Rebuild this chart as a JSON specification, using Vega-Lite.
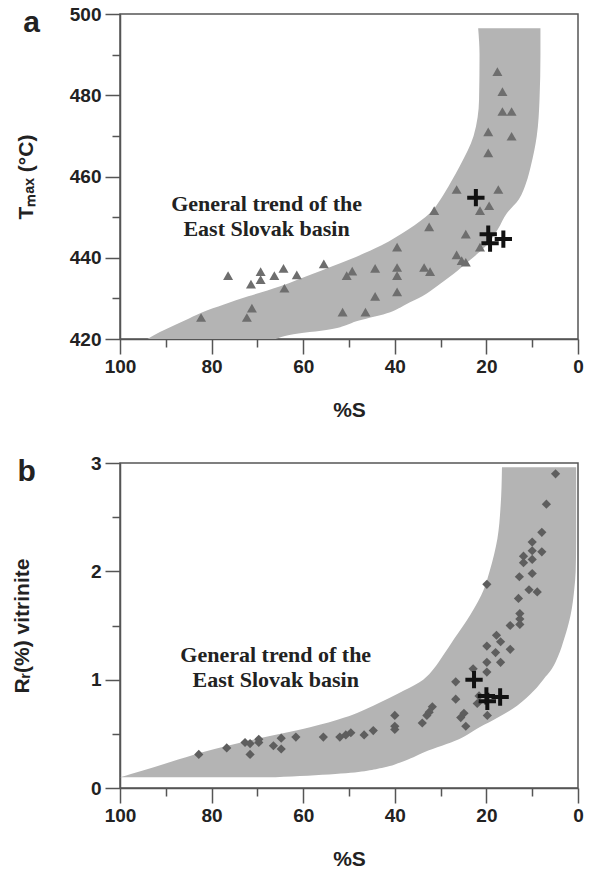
{
  "$schema": "https://vega.github.io/schema/vega-lite/v6.json",
  "background": "white",
  "padding": {"left": 10, "top": 4, "right": 0, "bottom": 0},
  "spacing": 32,
  "config": {
    "view": {"stroke": "#555", "strokeWidth": 1.5},
    "axis": {
      "grid": false,
      "domainColor": "#555", "domainWidth": 1.5,
      "tickColor": "#555", "tickWidth": 1.5,
      "labelFont": "Liberation Sans", "labelFontSize": 19, "labelFontWeight": "bold", "labelColor": "#222",
      "labelOverlap": false, "labelFlush": false, "labelBound": false,
      "titleFont": "Liberation Sans", "titleFontSize": 21, "titleFontWeight": "bold", "titleColor": "#222"
    },
    "title": {"font": "Liberation Sans", "fontSize": 30, "fontWeight": "bold", "color": "#222", "anchor": "start", "frame": "bounds"}
  },
  "datasets": {
    "bandA": [
      {"T": 420, "inner": 94, "outer": 66},
      {"T": 421, "inner": 92.5, "outer": 63},
      {"T": 422.4, "inner": 90, "outer": 54},
      {"T": 424.5, "inner": 86, "outer": 48},
      {"T": 426.6, "inner": 82, "outer": 41},
      {"T": 428.5, "inner": 77.3, "outer": 37.6},
      {"T": 430.5, "inner": 72, "outer": 34},
      {"T": 433, "inner": 65, "outer": 30.8},
      {"T": 436, "inner": 58, "outer": 27.2},
      {"T": 439.5, "inner": 50, "outer": 23.5},
      {"T": 443, "inner": 43, "outer": 20},
      {"T": 447, "inner": 37, "outer": 17.5},
      {"T": 451, "inner": 32.3, "outer": 15.5},
      {"T": 454.4, "inner": 30, "outer": 12.9},
      {"T": 458.5, "inner": 27.8, "outer": 11.3},
      {"T": 462.6, "inner": 25.8, "outer": 10.3},
      {"T": 470, "inner": 22.8, "outer": 9},
      {"T": 479, "inner": 21.6, "outer": 8.4},
      {"T": 490, "inner": 21.5, "outer": 8.2},
      {"T": 496.5, "inner": 21.8, "outer": 8.2}
    ],
    "triA": [
      {"S": 76.4, "T": 435.6}, {"S": 69.3, "T": 436.6}, {"S": 69.3, "T": 434.6}, {"S": 71.4, "T": 433.5},
      {"S": 66.3, "T": 435.6}, {"S": 64.3, "T": 437.4}, {"S": 61.4, "T": 435.8}, {"S": 64.1, "T": 432.5},
      {"S": 55.5, "T": 438.5}, {"S": 50.5, "T": 435.6}, {"S": 49.3, "T": 436.7}, {"S": 44.3, "T": 437.4},
      {"S": 44.3, "T": 430.5}, {"S": 82.3, "T": 425.3}, {"S": 71.2, "T": 427.6}, {"S": 72.3, "T": 425.3},
      {"S": 51.4, "T": 426.6}, {"S": 46.4, "T": 426.6}, {"S": 17.6, "T": 485.8}, {"S": 16.5, "T": 480.9},
      {"S": 16.5, "T": 476}, {"S": 14.5, "T": 476}, {"S": 19.6, "T": 471}, {"S": 14.5, "T": 469.9},
      {"S": 19.6, "T": 465.8}, {"S": 26.5, "T": 456.8}, {"S": 17.4, "T": 456.8}, {"S": 31.4, "T": 451.6},
      {"S": 21.4, "T": 451.6}, {"S": 19.4, "T": 452.8}, {"S": 32.5, "T": 447.6}, {"S": 24.5, "T": 445.8},
      {"S": 21.4, "T": 442.6}, {"S": 39.5, "T": 442.6}, {"S": 39.5, "T": 437.6}, {"S": 39.5, "T": 435.6},
      {"S": 39.5, "T": 431.6}, {"S": 33.6, "T": 437.6}, {"S": 32.3, "T": 436.6}, {"S": 26.5, "T": 440.7},
      {"S": 25.4, "T": 439.3}, {"S": 24.5, "T": 438.9}
    ],
    "crossA": [
      {"S": 22.3, "T": 454.8}, {"S": 19.6, "T": 445.8}, {"S": 19.2, "T": 443.6}, {"S": 16.3, "T": 444.6}
    ],
    "bandB": [
      {"R": 0.1, "inner": 100, "outer": 66},
      {"R": 0.13, "inner": 97.6, "outer": 53},
      {"R": 0.19, "inner": 92.8, "outer": 42.4},
      {"R": 0.24, "inner": 89, "outer": 38.5},
      {"R": 0.33, "inner": 82, "outer": 33.6},
      {"R": 0.45, "inner": 70.5, "outer": 26},
      {"R": 0.56, "inner": 58.5, "outer": 21.5},
      {"R": 0.65, "inner": 51, "outer": 17.5},
      {"R": 0.76, "inner": 44.7, "outer": 13.3},
      {"R": 0.9, "inner": 38, "outer": 9.6},
      {"R": 1.0, "inner": 33.8, "outer": 7.6},
      {"R": 1.1, "inner": 31.5, "outer": 5.7},
      {"R": 1.22, "inner": 29.5, "outer": 4.3},
      {"R": 1.38, "inner": 27, "outer": 3},
      {"R": 1.6, "inner": 23.5, "outer": 1.6},
      {"R": 1.84, "inner": 20.5, "outer": 0.8},
      {"R": 2.0, "inner": 19.3, "outer": 0.5},
      {"R": 2.3, "inner": 17.6, "outer": 0.4},
      {"R": 2.6, "inner": 16.9, "outer": 0.4},
      {"R": 2.96, "inner": 16.6, "outer": 0.4}
    ],
    "diaB": [
      {"S": 4.9, "R": 2.9}, {"S": 6.9, "R": 2.62}, {"S": 7.9, "R": 2.36}, {"S": 10.0, "R": 2.27},
      {"S": 10.0, "R": 2.19}, {"S": 7.9, "R": 2.18}, {"S": 11.9, "R": 2.14}, {"S": 10.0, "R": 2.11},
      {"S": 11.9, "R": 2.08}, {"S": 10.0, "R": 1.98}, {"S": 12.8, "R": 1.95}, {"S": 19.9, "R": 1.88},
      {"S": 10.7, "R": 1.83}, {"S": 8.9, "R": 1.81}, {"S": 13.0, "R": 1.75}, {"S": 12.7, "R": 1.61},
      {"S": 12.7, "R": 1.56}, {"S": 12.7, "R": 1.51}, {"S": 14.8, "R": 1.5}, {"S": 17.8, "R": 1.41},
      {"S": 16.9, "R": 1.35}, {"S": 19.9, "R": 1.31}, {"S": 14.8, "R": 1.28}, {"S": 18.0, "R": 1.25},
      {"S": 19.9, "R": 1.16}, {"S": 16.9, "R": 1.16}, {"S": 19.9, "R": 1.07}, {"S": 22.9, "R": 1.1},
      {"S": 82.8, "R": 0.31}, {"S": 76.7, "R": 0.37}, {"S": 72.7, "R": 0.42}, {"S": 71.6, "R": 0.41},
      {"S": 71.6, "R": 0.31}, {"S": 69.7, "R": 0.45}, {"S": 69.7, "R": 0.42}, {"S": 66.5, "R": 0.39},
      {"S": 64.8, "R": 0.46}, {"S": 64.8, "R": 0.36}, {"S": 61.6, "R": 0.47}, {"S": 55.6, "R": 0.47},
      {"S": 52.0, "R": 0.47}, {"S": 50.7, "R": 0.49}, {"S": 49.6, "R": 0.51}, {"S": 46.7, "R": 0.49},
      {"S": 44.7, "R": 0.53}, {"S": 40.0, "R": 0.67}, {"S": 40.0, "R": 0.57}, {"S": 40.0, "R": 0.54},
      {"S": 34.0, "R": 0.6}, {"S": 33.0, "R": 0.67}, {"S": 32.5, "R": 0.7}, {"S": 31.8, "R": 0.75},
      {"S": 26.7, "R": 0.98}, {"S": 26.7, "R": 0.82}, {"S": 25.6, "R": 0.65}, {"S": 24.9, "R": 0.69},
      {"S": 24.5, "R": 0.57}, {"S": 21.6, "R": 0.85}, {"S": 22.0, "R": 0.78}, {"S": 19.8, "R": 0.67}
    ],
    "crossB": [
      {"S": 22.7, "R": 1.0}, {"S": 20.0, "R": 0.85}, {"S": 19.8, "R": 0.8}, {"S": 17.0, "R": 0.84}
    ]
  },
  "vconcat": [
    {
      "width": 458, "height": 325,
      "title": {"text": "a", "offset": -33, "dx": 8},
      "layer": [
        {
          "data": {"name": "bandA"},
          "mark": {"type": "area", "orient": "horizontal", "color": "#b4b4b4", "interpolate": "monotone"},
          "encoding": {
            "y": {"field": "T", "type": "quantitative", "scale": {"domain": [420, 500], "nice": false, "zero": false},
              "axis": {"values": [420, 430, 440, 450, 460, 470, 480, 490, 500],
                "labelExpr": "datum.value % 20 === 0 ? datum.label : ''",
                "tickSize": {"condition": {"test": "datum.value % 20 === 0", "value": 15}, "value": 8},
                "labelPadding": 4, "title": "Tₘₐₓ (°C)", "titlePadding": 33}},
            "x": {"field": "inner", "type": "quantitative", "scale": {"domain": [0, 100], "reverse": true, "nice": false},
              "axis": {"values": [0, 10, 20, 30, 40, 50, 60, 70, 80, 90, 100],
                "labelExpr": "datum.value % 20 === 0 ? datum.label : ''",
                "tickSize": {"condition": {"test": "datum.value % 20 === 0", "value": 15}, "value": 8},
                "labelPadding": 3, "title": "%S", "titlePadding": 23}},
            "x2": {"field": "outer"}
          }
        },
        {
          "data": {"name": "triA"},
          "mark": {"type": "point", "shape": "triangle-up", "filled": true, "color": "#6e6e6e", "opacity": 1, "size": 100},
          "encoding": {"x": {"field": "S", "type": "quantitative"}, "y": {"field": "T", "type": "quantitative"}}
        },
        {
          "data": {"name": "crossA"},
          "mark": {"type": "point", "shape": "M-1,0H1M0,-1V1", "filled": false, "stroke": "#111", "strokeWidth": 4, "opacity": 1, "size": 300},
          "encoding": {"x": {"field": "S", "type": "quantitative"}, "y": {"field": "T", "type": "quantitative"}}
        },
        {
          "data": {"values": [{}]},
          "mark": {"type": "text", "text": ["General trend of the", "East Slovak basin"], "font": "Liberation Serif", "fontSize": 22, "fontWeight": "bold", "lineHeight": 25, "color": "#222", "baseline": "middle", "align": "center"},
          "encoding": {"x": {"datum": 68, "type": "quantitative"}, "y": {"datum": 453.3, "type": "quantitative"}}
        }
      ]
    },
    {
      "width": 458, "height": 325,
      "title": {"text": "b", "offset": -33, "dx": 6},
      "layer": [
        {
          "data": {"name": "bandB"},
          "mark": {"type": "area", "orient": "horizontal", "color": "#b4b4b4", "interpolate": "monotone"},
          "encoding": {
            "y": {"field": "R", "type": "quantitative", "scale": {"domain": [0, 3], "nice": false},
              "axis": {"values": [0, 0.5, 1, 1.5, 2, 2.5, 3],
                "labelExpr": "datum.value % 1 === 0 ? format(datum.value, 'd') : ''",
                "tickSize": {"condition": {"test": "datum.value % 1 === 0", "value": 15}, "value": 8},
                "labelPadding": 4, "title": "Rᵣ(%) vitrinite", "titlePadding": 58}},
            "x": {"field": "inner", "type": "quantitative", "scale": {"domain": [0, 100], "reverse": true, "nice": false},
              "axis": {"values": [0, 10, 20, 30, 40, 50, 60, 70, 80, 90, 100],
                "labelExpr": "datum.value % 20 === 0 ? datum.label : ''",
                "tickSize": {"condition": {"test": "datum.value % 20 === 0", "value": 15}, "value": 8},
                "labelPadding": 3, "title": "%S", "titlePadding": 23}},
            "x2": {"field": "outer"}
          }
        },
        {
          "data": {"name": "diaB"},
          "mark": {"type": "point", "shape": "diamond", "filled": true, "color": "#5e5e5e", "opacity": 1, "size": 85},
          "encoding": {"x": {"field": "S", "type": "quantitative"}, "y": {"field": "R", "type": "quantitative"}}
        },
        {
          "data": {"name": "crossB"},
          "mark": {"type": "point", "shape": "M-1,0H1M0,-1V1", "filled": false, "stroke": "#111", "strokeWidth": 4, "opacity": 1, "size": 300},
          "encoding": {"x": {"field": "S", "type": "quantitative"}, "y": {"field": "R", "type": "quantitative"}}
        },
        {
          "data": {"values": [{}]},
          "mark": {"type": "text", "text": ["General trend of the", "East Slovak basin"], "font": "Liberation Serif", "fontSize": 22, "fontWeight": "bold", "lineHeight": 25, "color": "#222", "baseline": "middle", "align": "center"},
          "encoding": {"x": {"datum": 66, "type": "quantitative"}, "y": {"datum": 1.227, "type": "quantitative"}}
        }
      ]
    }
  ]
}
